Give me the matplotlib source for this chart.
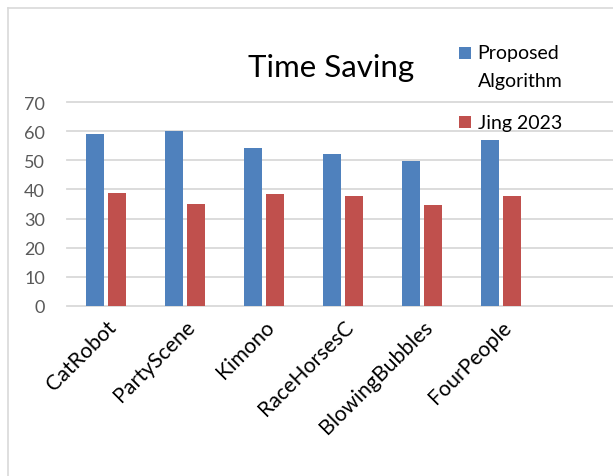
import numpy as np
import matplotlib
matplotlib.use("Agg")
import matplotlib.pyplot as plt
from matplotlib.patches import Rectangle
from matplotlib.lines import Line2D

plt.rcParams['font.family'] = ['Lato', 'DejaVu Sans']

categories = ["CatRobot", "PartyScene", "Kimono", "RaceHorsesC", "BlowingBubbles", "FourPeople"]
proposed = [59.1, 60.0, 54.3, 52.3, 49.8, 57.1]
jing2023 = [38.7, 34.9, 38.5, 37.7, 34.7, 37.7]
series_names = ["Proposed\nAlgorithm", "Jing 2023"]
yticks = [0, 10, 20, 30, 40, 50, 60, 70]

blue = '#4F81BD'
red = '#C0504D'
grid = '#d9d9d9'

W, H = 613, 477
fig = plt.figure(figsize=(W / 100, H / 100), dpi=100)

# plot area runs a bit past the right edge (the original is cropped)
ax = fig.add_axes([66.5 / W, 1 - 306.7 / H, 7 * 79 / W, 203.4 / H])
x = np.arange(len(categories))
bw = 0.228
ax.bar(x - 0.139, proposed, bw, color=blue, zorder=3)
ax.bar(x + 0.139, jing2023, bw, color=red, zorder=3)

ax.set_xlim(-0.5, 6.5)
ax.set_ylim(0, 70)
ax.set_yticks(yticks)
ax.set_xticks(x)
ax.set_xticklabels(categories, rotation=45, ha='right', rotation_mode='anchor')
for s in ax.spines.values():
    s.set_visible(False)
ax.yaxis.grid(True, color=grid, linewidth=1.3)
ax.set_axisbelow(True)
for ln in ax.get_ygridlines():
    ln.set_clip_on(False)
ax.tick_params(axis='y', length=0, pad=15.5, labelsize=13, labelcolor='#595959')
ax.tick_params(axis='x', length=0, pad=7.5, labelsize=15.3, labelcolor='black')

# chart border (left and top visible)
fig.add_artist(Line2D([7.5 / W, 7.5 / W], [0, 1 - 9 / H], color=grid, linewidth=1.2))
fig.add_artist(Line2D([7.5 / W, 1], [1 - 9 / H, 1 - 9 / H], color=grid, linewidth=1.2))

fig.text(331 / W, 1 - 76.7 / H, "Time Saving", ha='center', va='baseline', fontsize=22.5)

# legend
for col, name, top, base in [(blue, series_names[0], 48.3, 59.3), (red, series_names[1], 117.3, 129.3)]:
    fig.add_artist(Rectangle((459.3 / W, 1 - (top + 11.5) / H), 12 / W, 11.5 / H,
                             facecolor=col, edgecolor='none', transform=fig.transFigure))
    for i, line in enumerate(name.split("\n")):
        fig.text(477.7 / W, 1 - (base + 28 * i) / H, line, ha='left', va='baseline', fontsize=14)

fig.savefig("out.png", dpi=100)
